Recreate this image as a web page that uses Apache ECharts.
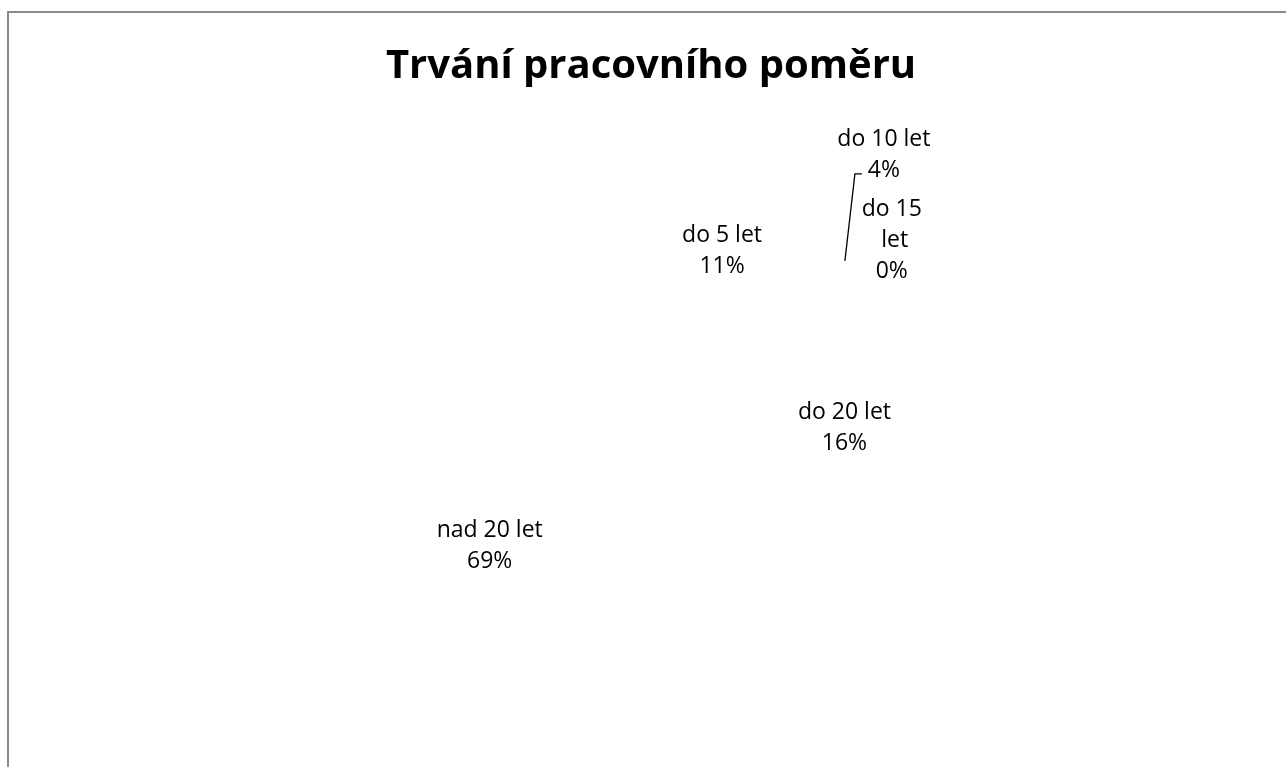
<!DOCTYPE html>
<html>
<head>
<meta charset="utf-8">
<title>Trvání pracovního poměru</title>
<script src="https://cdn.jsdelivr.net/npm/echarts@6/dist/echarts.min.js"></script>
<style>
  html, body { margin: 0; padding: 0; background: #fff; }
  #chart { width: 1286px; height: 767px; }
</style>
</head>
<body>
<div id="chart"></div>
<script>
  // data
  var categories = ['do 5 let', 'do 10 let', 'do 15 let', 'do 20 let', 'nad 20 let'];
  var shares = [11, 4, 0, 16, 69];

  var font = '"Open Sans", "DejaVu Sans", sans-serif';

  var pieData = categories.map(function (name, i) {
    var item = { name: name, value: shares[i] };
    if (name === 'do 10 let') {
      item.label = { position: 'outside' };
      item.labelLine = { show: true, length: 0, length2: 8 };
    }
    if (name === 'do 15 let') {
      item.label = { position: 'inside', width: 66, overflow: 'break' };
    }
    return item;
  });

  // label nudges, like excel's best fit placement
  function moveLabel(params) {
    var name = categories[params.dataIndex];
    if (name === 'do 5 let') return { dx: 5, dy: -9 };
    if (name === 'do 20 let') return { dy: 9 };
    if (name === 'nad 20 let') return { dy: -7 };
    if (name === 'do 15 let') return { dx: 83, dy: -88 };
    if (name === 'do 10 let') {
      var r = params.labelRect;
      // text anchor becomes the centre once align is 'center'
      var cx = r.x + 26;
      var by = r.y - 106 + r.height - 12;
      var start = params.labelLinePoints ? params.labelLinePoints[0] : [845, 262];
      return {
        align: 'center',
        dx: 26,
        dy: -106,
        labelLinePoints: [start, [cx - 29, by], [cx - 22, by]]
      };
    }
  }

  var chart = echarts.init(document.getElementById('chart'), null, { renderer: 'canvas' });

  var option = {
    backgroundColor: '#ffffff',
    animation: false,
    title: {
      text: 'Trvání pracovního poměru',
      left: 651,
      top: 47,
      padding: 0,
      textAlign: 'center',
      textStyle: {
        fontFamily: font,
        fontWeight: 'bold',
        fontSize: 40,
        color: '#000'
      }
    },
    graphic: [{
      type: 'rect',
      shape: { x: 8, y: 12, width: 1300, height: 800 },
      style: { fill: 'none', stroke: '#8a8a8a', lineWidth: 2 },
      silent: true
    }],
    series: [{
      type: 'pie',
      center: [651, 443],
      radius: [118, 266],
      startAngle: 90,
      clockwise: true,
      avoidLabelOverlap: false,
      minShowLabelAngle: 0,
      emphasis: { disabled: true },
      itemStyle: { color: 'rgba(255,255,255,0)', borderWidth: 0 },
      label: {
        show: true,
        position: 'inside',
        formatter: '{b}\n{d}%',
        fontFamily: font,
        fontSize: 23,
        lineHeight: 31,
        color: '#000',
        align: 'center'
      },
      labelLine: {
        show: false,
        lineStyle: { color: '#000', width: 1.3 }
      },
      labelLayout: moveLabel,
      data: pieData
    }]
  };

  chart.setOption(option);
</script>
</body>
</html>
